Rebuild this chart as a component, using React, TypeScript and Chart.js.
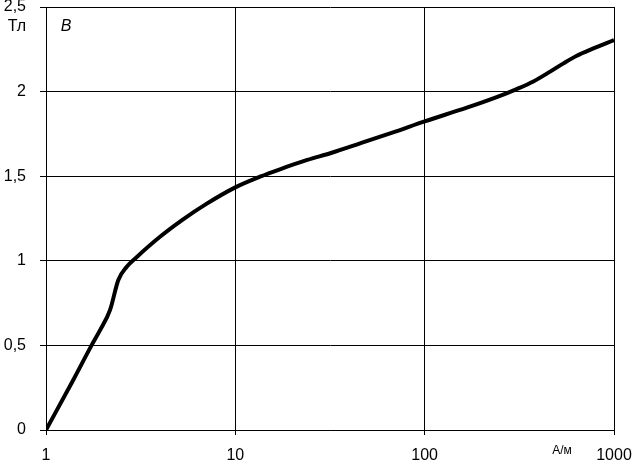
import React, { useEffect, useRef } from "react";
import { Chart, registerables } from "chart.js";

Chart.register(...registerables);

const fieldH: number[] = [1, 1.4, 1.74, 1.93, 2.18, 2.41, 2.67, 3.0, 4.0, 5.3, 7, 10, 13.5, 17.2, 24, 32, 45.6, 70, 100, 167, 250, 306, 375, 460, 541, 636, 778, 1000];
const inductionB: number[] = [0, 0.3, 0.5, 0.59, 0.71, 0.887, 0.965, 1.02, 1.142, 1.245, 1.335, 1.434, 1.497, 1.541, 1.596, 1.637, 1.694, 1.764, 1.824, 1.905, 1.975, 2.015, 2.06, 2.118, 2.167, 2.212, 2.255, 2.305];
const xTicks: number[] = [1, 10, 100, 1000];
const yTickLabels: string[] = ["0", "0,5", "1", "1,5", "2", "2,5"];
const yUnit = "Тл";
const xUnit = "А/м";
const curveName = "B";

const FONT = "'Liberation Sans', Arial, sans-serif";

const textPlugin = {
  id: "extraText",
  afterDraw(chart: any) {
    const ctx = chart.ctx;
    ctx.save();
    ctx.fillStyle = "#000";
    ctx.textBaseline = "middle";
    ctx.textAlign = "center";
    ctx.font = `16px ${FONT}`;
    ctx.fillText(yUnit, 17, 27);
    ctx.font = `italic 16px ${FONT}`;
    ctx.fillText(curveName, 66, 27);
    ctx.font = `12px ${FONT}`;
    ctx.fillText(xUnit, 562, 451);
    ctx.restore();
  },
};

export default function App() {
  const ref = useRef<HTMLCanvasElement | null>(null);
  useEffect(() => {
    if (!ref.current) return;
    const chart = new Chart(ref.current, {
      type: "line",
      data: {
        datasets: [
          {
            data: fieldH.map((h, i) => ({ x: h, y: inductionB[i] })),
            borderColor: "#000",
            borderWidth: 4,
            pointRadius: 0,
            cubicInterpolationMode: "monotone",
            fill: false,
          },
        ],
      },
      options: {
        animation: false,
        responsive: false,
        maintainAspectRatio: false,
        layout: { padding: { top: 7, right: 23, left: 0, bottom: 0 } },
        plugins: { legend: { display: false }, tooltip: { enabled: false } },
        scales: {
          x: {
            type: "logarithmic",
            min: 1,
            max: 1000,
            afterBuildTicks: (scale: any) => {
              scale.ticks = xTicks.map((v) => ({ value: v }));
            },
            afterFit: (scale: any) => {
              scale.height = 34;
              scale.paddingLeft = 0;
              scale.paddingRight = 0;
            },
            ticks: {
              autoSkip: false,
              maxRotation: 0,
              color: "#000",
              font: { family: FONT, size: 16 },
              padding: 11,
              callback: (v: any) => String(v),
            },
            grid: { color: "#000", lineWidth: 1, tickLength: 5, drawTicks: true },
            border: { color: "#000", width: 1 },
          },
          y: {
            min: 0,
            max: 2.5,
            afterBuildTicks: (scale: any) => {
              scale.ticks = yTickLabels.map((_, i) => ({ value: i * 0.5 }));
            },
            afterFit: (scale: any) => {
              scale.width = 46;
              scale.paddingTop = 0;
              scale.paddingBottom = 0;
            },
            ticks: {
              color: "#000",
              font: { family: FONT, size: 16 },
              padding: 14,
              callback: (_v: any, i: number) => yTickLabels[i],
            },
            grid: { color: "#000", lineWidth: 1, tickLength: 6, drawTicks: true },
            border: { color: "#000", width: 1 },
          },
        },
      },
      plugins: [textPlugin],
    } as any);
    return () => chart.destroy();
  }, []);
  return (
    <div style={{ position: "fixed", left: 0, top: 0, width: 637, height: 464, background: "#fff" }}>
      <canvas ref={ref} width={637} height={464} style={{ width: 637, height: 464, display: "block" }} />
    </div>
  );
}
